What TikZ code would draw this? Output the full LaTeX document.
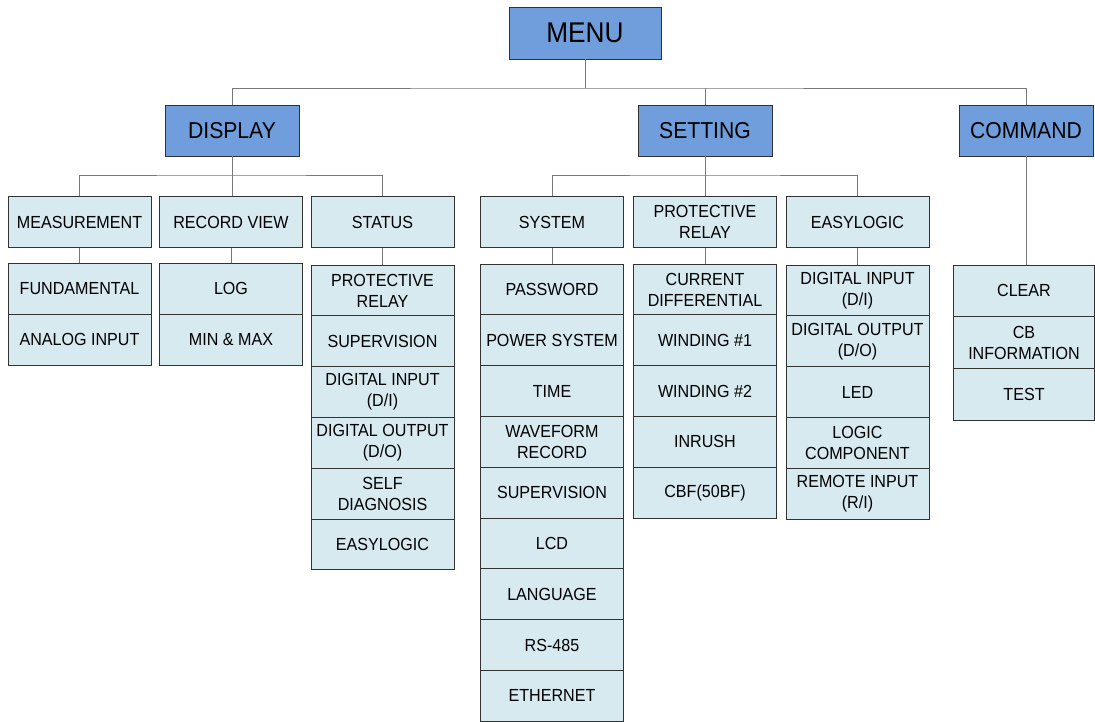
\documentclass[tikz,border=0pt]{standalone}
\usepackage{fontspec}
\setmainfont{Liberation Sans}[FakeStretch=0.92]
\definecolor{hdrblue}{RGB}{112,157,219}
\definecolor{itemcyan}{RGB}{214,234,240}
\definecolor{edgegray}{RGB}{50,50,50}
\definecolor{linkgray}{RGB}{120,120,120}
\begin{document}
\begin{tikzpicture}[x=1pt,y=-1pt,
  hdr/.style={draw=edgegray, line width=0.85pt, fill=hdrblue, minimum width=134pt, minimum height=51pt, inner sep=0pt, font=\fontsize{23}{27}\selectfont},
  item/.style={draw=edgegray, line width=0.85pt, fill=itemcyan, minimum width=143pt, minimum height=51pt, inner sep=0pt, align=center, font=\fontsize{17.5}{21}\selectfont},
  link/.style={draw=linkgray, line width=0.8pt}]
\useasboundingbox (0,0) rectangle (1095,721);
\begin{scope}
\clip (0,0) rectangle (1095,721);
% top
\node[hdr, minimum width=152pt, minimum height=52pt, font=\fontsize{28.5}{32}\selectfont] (menu) at (585,33) {MENU};
\node[hdr] (display) at (232,130.5) {DISPLAY};
\node[hdr] (setting) at (705,130.5) {SETTING};
\node[hdr] (command) at (1026,130.5) {COMMAND};
\coordinate (b1) at (585,88);
\coordinate (dbus) at (232,175);
\coordinate (sbus) at (705,175);
% level 2
\node[item] (meas) at (79.5,222) {MEASUREMENT};
\node[item] (recv) at (231,222) {RECORD VIEW};
\node[item] (status) at (382.5,222) {STATUS};
\node[item] (system) at (552,222) {SYSTEM};
\node[item] (prot) at (705,222) {PROTECTIVE\\RELAY};
\node[item] (easy) at (857.5,222) {EASYLOGIC};
% measurement stack
\node[item] (fund) at (79.5,288.5) {FUNDAMENTAL};
\node[item] (analog) at (79.5,339.5) {ANALOG INPUT};
% record view stack
\node[item] (log) at (231,288.5) {LOG};
\node[item] (minmax) at (231,339.5) {MIN \& MAX};
% status stack
\node[item, minimum height=50.8pt] (sprot) at (382.5,290.4) {PROTECTIVE\\RELAY};
\node[item, minimum height=50.8pt] (ssup) at (382.5,341.2) {SUPERVISION};
\node[item, minimum height=50.8pt] (sdi) at (382.5,392) {DIGITAL INPUT\\(D/I)};
\node[item, minimum height=50.8pt] (sdo) at (382.5,442.8) {DIGITAL OUTPUT\\(D/O)};
\node[item, minimum height=50.8pt] (sself) at (382.5,493.6) {SELF\\DIAGNOSIS};
\node[item, minimum height=50.8pt] (seasy) at (382.5,544.4) {EASYLOGIC};
% system stack
\node[item, minimum height=50.8pt] (pw) at (552,289.4) {PASSWORD};
\node[item, minimum height=50.8pt] (psys) at (552,340.2) {POWER SYSTEM};
\node[item, minimum height=50.8pt] (time) at (552,391) {TIME};
\node[item, minimum height=50.8pt] (wave) at (552,441.8) {WAVEFORM\\RECORD};
\node[item, minimum height=50.8pt] (sup) at (552,492.6) {SUPERVISION};
\node[item, minimum height=50.8pt] (lcd) at (552,543.4) {LCD};
\node[item, minimum height=50.8pt] (lang) at (552,594.2) {LANGUAGE};
\node[item, minimum height=50.8pt] (rs) at (552,645) {RS-485};
\node[item, minimum height=50.8pt] (eth) at (552,695.8) {ETHERNET};
% protective relay stack
\node[item, minimum height=50.8pt] (cd) at (705,289.4) {CURRENT\\DIFFERENTIAL};
\node[item, minimum height=50.8pt] (w1) at (705,340.2) {WINDING \#1};
\node[item, minimum height=50.8pt] (w2) at (705,391) {WINDING \#2};
\node[item, minimum height=50.8pt] (inr) at (705,441.8) {INRUSH};
\node[item, minimum height=50.8pt] (cbf) at (705,492.6) {CBF(50BF)};
% easylogic stack
\node[item, minimum height=50.8pt] (edi) at (857.5,290.4) {DIGITAL INPUT\\(D/I)};
\node[item, minimum height=50.8pt] (edo) at (857.5,341.2) {DIGITAL OUTPUT\\(D/O)};
\node[item, minimum height=50.8pt] (led) at (857.5,392) {LED};
\node[item, minimum height=50.8pt] (logic) at (857.5,442.8) {LOGIC\\COMPONENT};
\node[item, minimum height=50.8pt] (remote) at (857.5,493.6) {REMOTE INPUT\\(R/I)};
% command stack
\node[item, minimum width=141pt, minimum height=51.7pt] (clear) at (1024,290.9) {CLEAR};
\node[item, minimum width=141pt, minimum height=51.7pt] (cbinfo) at (1024,342.6) {CB\\INFORMATION};
\node[item, minimum width=141pt, minimum height=51.7pt] (test) at (1024,394.3) {TEST};
% connectors
\draw[link] (menu.south) -- (menu.south |- b1);
\draw[link] (display.north) |- (b1) -| (command.north);
\draw[link] (setting.north) -- (setting.north |- b1);
\draw[link] (meas.north) |- (dbus) -| (status.north);
\draw[link] (display.south) -- (display.south |- recv.north);
\draw[link] (system.north) |- (sbus) -| (easy.north);
\draw[link] (setting.south) -- (prot.north);
\draw[link] (command.south) -- (command.south |- clear.north);
\draw[link] (meas.south) -- (fund.north);
\draw[link] (recv.south) -- (log.north);
\draw[link] (status.south) -- (sprot.north);
\draw[link] (system.south) -- (pw.north);
\draw[link] (prot.south) -- (cd.north);
\draw[link] (easy.south) -- (edi.north);
\end{scope}
\end{tikzpicture}
\end{document}
